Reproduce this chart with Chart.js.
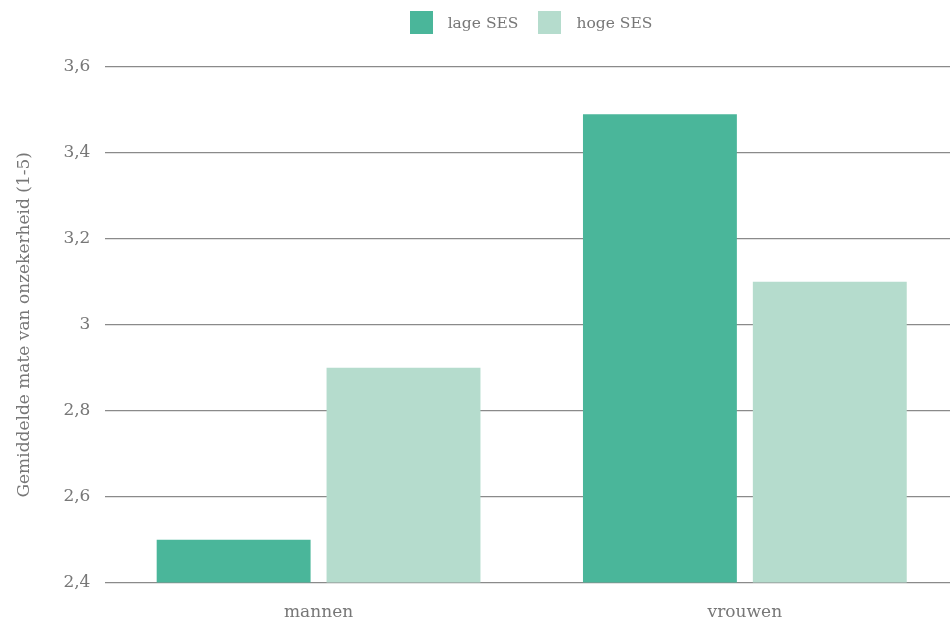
<!DOCTYPE html>
<html>
<head>
<meta charset="utf-8">
<script src="https://cdn.jsdelivr.net/npm/chart.js@4"></script>
<style>
    html, body { margin: 0; padding: 0; background: #ffffff; overflow: hidden; }
    #wrap { width: 958px; height: 621px; position: relative; }
    #legend {
        position: absolute;
        top: 11px;
        left: 0;
        width: 950px;
        display: flex;
        justify-content: center;
        padding-left: 112px;
        box-sizing: border-box;
        font-family: 'DejaVu Serif', serif;
        font-size: 15.5px;
        color: #777777;
    }
    .item { display: flex; align-items: center; margin: 0 10px; }
    .swatch { width: 23px; height: 23px; margin-right: 15px; }
</style>
</head>
<body>
<div id="wrap">
    <canvas id="sesChart"></canvas>
    <div id="legend"></div>
</div>
<script>
// groups along the x axis
const categories = ["mannen", "vrouwen"];

// mean uncertainty score (1-5) per group
const lageSES = [2.5, 3.49];
const hogeSES = [2.9, 3.1];

const seriesNames = ["lage SES", "hoge SES"];
const seriesColors = ["#4ab69a", "#b5dccd"];

// y axis range and step
const yMin = 2.4;
const yMax = 3.6;
const yStep = 0.2;

const textColor = "#777777";

Chart.defaults.font.family = "'DejaVu Serif', serif";
Chart.defaults.font.size = 17;
Chart.defaults.color = textColor;

// LEGEND

const legend =
    document.getElementById("legend");

seriesNames.forEach((name, i) =>
{
    legend.innerHTML += `
        <div class="item">
            <div class="swatch" style="background:${seriesColors[i]}"></div>
            <span>${name}</span>
        </div>
    `;
});

// CHART

const ctx =
document
    .getElementById("sesChart")
    .getContext("2d");

new Chart(ctx, {

    type: "bar",

    data: {

        labels: categories,

        datasets: [
            {
                label: seriesNames[0],
                data: lageSES,
                backgroundColor: seriesColors[0]
            },
            {
                label: seriesNames[1],
                data: hogeSES,
                backgroundColor: seriesColors[1]
            }
        ]
    },

    options: {

        responsive: true,
        maintainAspectRatio: false,
        animation: false,

        categoryPercentage: 0.797,
        barPercentage: 0.906,

        layout: {
            padding: { left: 14, right: 0, top: 67, bottom: -22 }
        },

        plugins: {
            legend: { display: false },
            tooltip: { enabled: false }
        },

        scales: {

            x: {
                grid: { display: false, drawTicks: false },
                border: { display: false },
                ticks: { padding: 20 }
            },

            y: {
                min: yMin,
                max: yMax,
                grid: {
                    color: "#8a8a8a",
                    lineWidth: 1.2,
                    drawTicks: false
                },
                border: { display: false },
                ticks: {
                    stepSize: yStep,
                    padding: 15,
                    callback: value =>
                        String(Math.round(value * 10) / 10).replace(".", ",")
                },
                title: {
                    display: true,
                    text: "Gemiddelde mate van onzekerheid (1-5)",
                    color: textColor,
                    padding: { top: 0, bottom: 14 }
                }
            }
        }
    }
});
</script>
</body>
</html>
